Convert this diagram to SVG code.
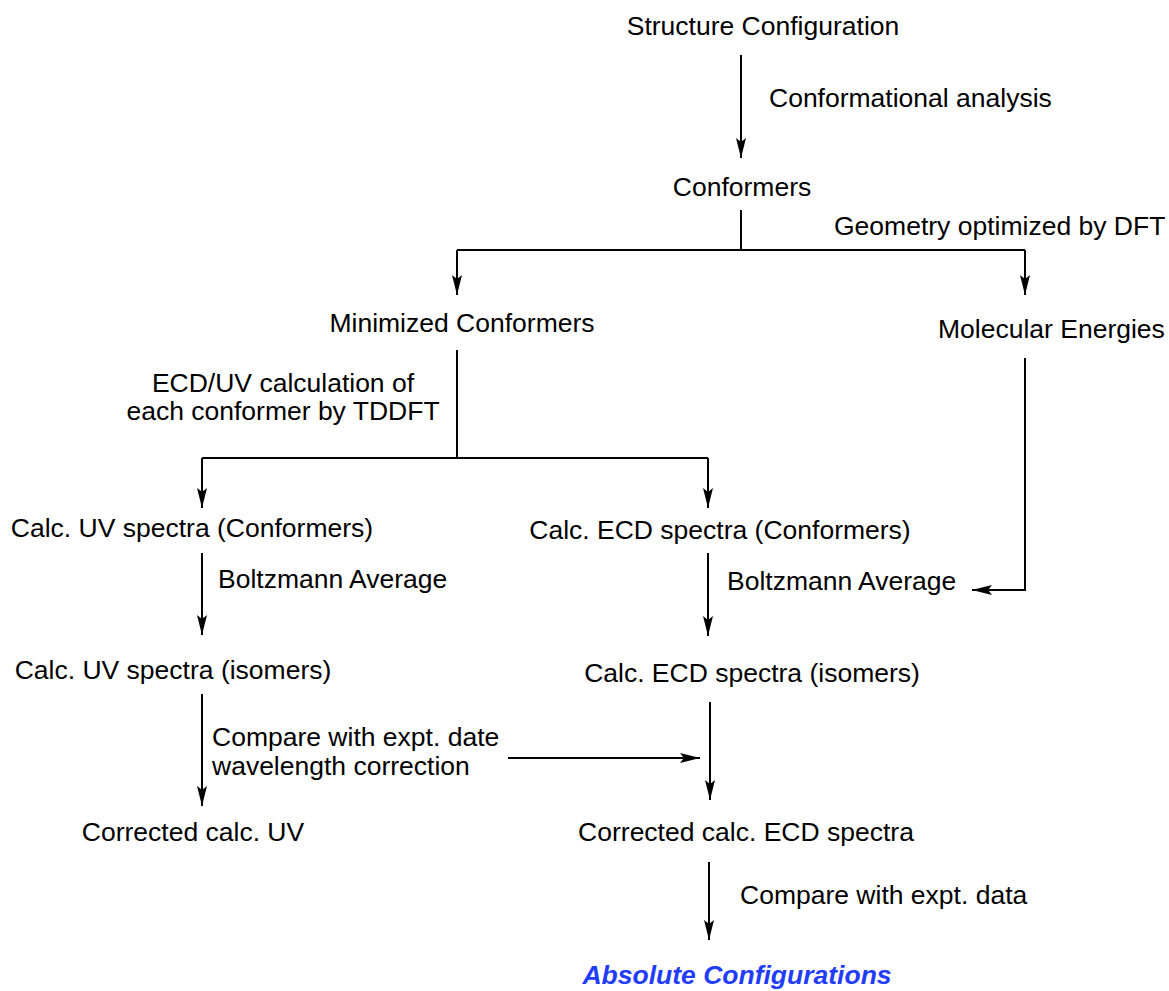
<svg xmlns="http://www.w3.org/2000/svg" width="1169" height="991" viewBox="0 0 1169 991">
<style>
text{font-family:"Liberation Sans",Arial,sans-serif;font-size:26.5px;fill:#000}
.c{text-anchor:middle}
.l{stroke:#000;stroke-width:2;fill:none}
.a{stroke:#000;stroke-width:2;fill:none;marker-end:url(#ah)}
.blue{fill:#1f3cff;font-weight:bold;font-style:italic}
</style>
<defs>
<marker id="ah" markerUnits="userSpaceOnUse" markerWidth="22" markerHeight="12" refX="20" refY="5" orient="auto">
<path d="M0,0 L20,5 L0,10 L4,5 z" fill="#000"/>
</marker>
</defs>
<rect width="1169" height="991" fill="#fff"/>
<g id="connectors">
<path class="a" d="M741,55 V158"/>
<path class="l" d="M741,210 V250 M457,250 H1025"/>
<path class="a" d="M457,250 V295"/>
<path class="a" d="M1025,250 V295"/>
<path class="l" d="M457,350 V458 M202,458 H708"/>
<path class="a" d="M202,458 V508"/>
<path class="a" d="M708,458 V508"/>
<path class="a" d="M1025,358 V590 H972"/>
<path class="a" d="M202,553 V635"/>
<path class="a" d="M708,553 V636"/>
<path class="a" d="M202,694 V806"/>
<path class="a" d="M508,758 H700"/>
<path class="a" d="M710,702 V800"/>
<path class="a" d="M709,862 V940"/>
</g>
<g id="structure-configuration"><text class="c" x="763" y="35">Structure Configuration</text></g>
<g id="label-conformational"><text x="769" y="107">Conformational analysis</text></g>
<g id="conformers"><text class="c" x="742" y="196">Conformers</text></g>
<g id="label-geometry"><text x="834" y="235">Geometry optimized by DFT</text></g>
<g id="minimized-conformers"><text class="c" x="462" y="332">Minimized Conformers</text></g>
<g id="molecular-energies"><text x="938" y="338">Molecular Energies</text></g>
<g id="label-ecduv"><text class="c" x="283" y="392">ECD/UV calculation of</text><text class="c" x="283" y="420">each conformer by TDDFT</text></g>
<g id="uv-conformers"><text class="c" x="192" y="537">Calc. UV spectra (Conformers)</text></g>
<g id="ecd-conformers"><text class="c" x="720" y="539">Calc. ECD spectra (Conformers)</text></g>
<g id="label-boltz-left"><text x="218" y="588">Boltzmann Average</text></g>
<g id="label-boltz-right"><text x="727" y="590">Boltzmann Average</text></g>
<g id="uv-isomers"><text class="c" x="173" y="679">Calc. UV spectra (isomers)</text></g>
<g id="ecd-isomers"><text class="c" x="752" y="682">Calc. ECD spectra (isomers)</text></g>
<g id="label-compare-uv"><text x="212" y="746">Compare with expt. date</text><text x="212" y="775">wavelength correction</text></g>
<g id="corrected-uv"><text class="c" x="193" y="841">Corrected calc. UV</text></g>
<g id="corrected-ecd"><text class="c" x="746" y="841">Corrected calc. ECD spectra</text></g>
<g id="label-compare-ecd"><text x="740" y="904">Compare with expt. data</text></g>
<g id="absolute-configurations"><text class="c blue" x="737" y="984">Absolute Configurations</text></g>
</svg>
